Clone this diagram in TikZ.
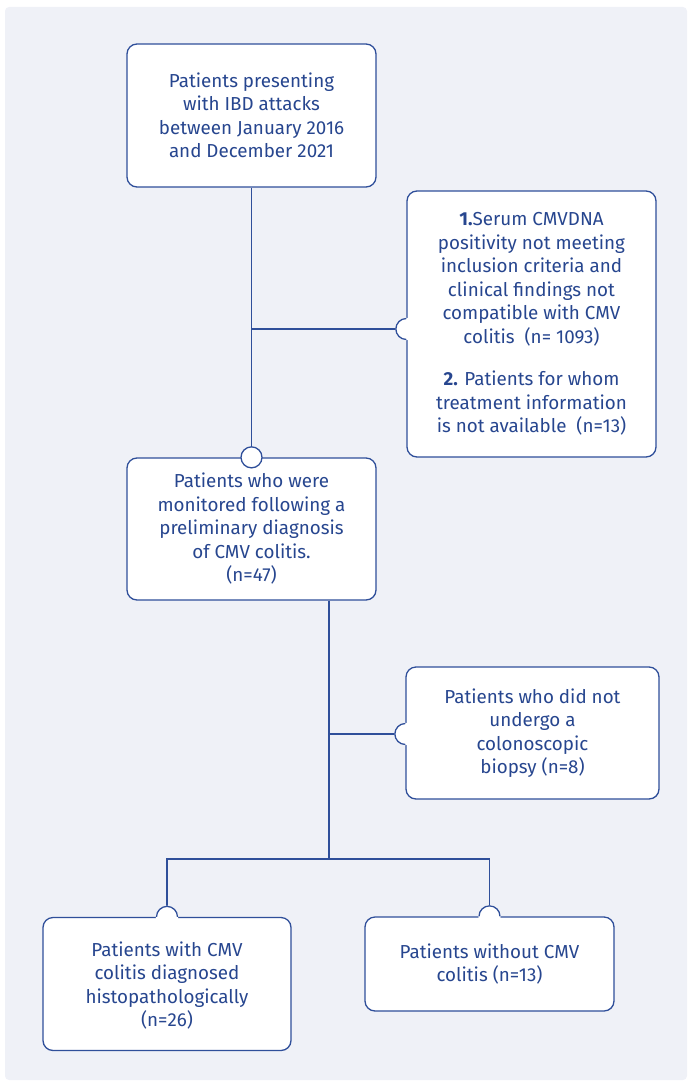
\documentclass[tikz,border=0pt]{standalone}
\usepackage{fontspec}
\setmainfont{Fira Sans}
\definecolor{bg}{HTML}{EFF1F7}
\definecolor{ln}{HTML}{2F4F9A}
\definecolor{tx}{HTML}{27468F}
\tikzset{
  box/.style={draw=ln, line width=1.3pt, fill=white, rounded corners=10pt,
    align=center, text=tx, font=\fontsize{18.8}{23.5}\selectfont, inner sep=0pt},
  conn/.style={draw=ln, line width=1.1pt},
  bumpline/.style={draw=ln, line width=1.3pt}
}
\begin{document}
\begin{tikzpicture}[x=1pt,y=-1pt]
\useasboundingbox (0,0) rectangle (688,1081);
\fill[bg, rounded corners=4pt] (5,7) rectangle (687,1080);

\coordinate (j1) at (251,329);
\coordinate (j2) at (329,734);
\coordinate (j3) at (329,859);

\node[box, minimum width=249pt, minimum height=143pt] (b1) at (251.5,115.5)
  {Patients presenting\\with IBD attacks\\between January 2016\\and December 2021};
\node[box, minimum width=249pt, minimum height=266pt] (b2) at (531.5,324)
  {\textbf{1.}Serum CMVDNA\\positivity not meeting\\inclusion criteria and\\clinical findings not\\compatible with CMV\\colitis\ \ (n= 1093)\\[19pt]\textbf{2.} Patients for whom\\treatment information\\is not available\ \ (n=13)};
\node[box, minimum width=249pt, minimum height=142pt] (b3) at (251.5,529)
  {Patients who were\\monitored following a\\preliminary diagnosis\\of CMV colitis.\\(n=47)};
\node[box, minimum width=253pt, minimum height=132pt] (b4) at (532.5,733)
  {Patients who did not\\undergo a\\colonoscopic\\biopsy (n=8)};
\node[box, minimum width=248pt, minimum height=133pt] (b5) at (167,984)
  {\\[-6pt]Patients with CMV\\colitis diagnosed\\histopathologically\\(n=26)};
\node[box, minimum width=249pt, minimum height=94pt] (b6) at (489.5,964)
  {Patients without CMV\\colitis (n=13)};

\draw[conn] (b1.south) -- (b3.north);
\draw[conn] (j1) -- (j1 -| b2.west);
\draw[conn] (b3.south -| j2) -- (j3);
\draw[conn] (j2) -- (j2 -| b4.west);
\draw[conn] (b5.north) |- (j3) -| (b6.north);

\draw[bumpline, fill=white] (b3.north) circle[radius=10.5pt];
\coordinate (p2) at (b2.west |- j1);
\coordinate (p4) at (b4.west |- j2);
\foreach \p in {p2,p4}{
  \fill[white] (\p) circle[radius=11.2pt];
  \draw[bumpline] (\p) ++(0pt,10.5pt) arc[start angle=90, end angle=270, radius=10.5pt];
}
\foreach \p in {b5.north,b6.north}{
  \fill[white] (\p) circle[radius=11.2pt];
  \draw[bumpline] (\p) ++(10.5pt,0pt) arc[start angle=0, end angle=180, radius=10.5pt];
}
\end{tikzpicture}
\end{document}
